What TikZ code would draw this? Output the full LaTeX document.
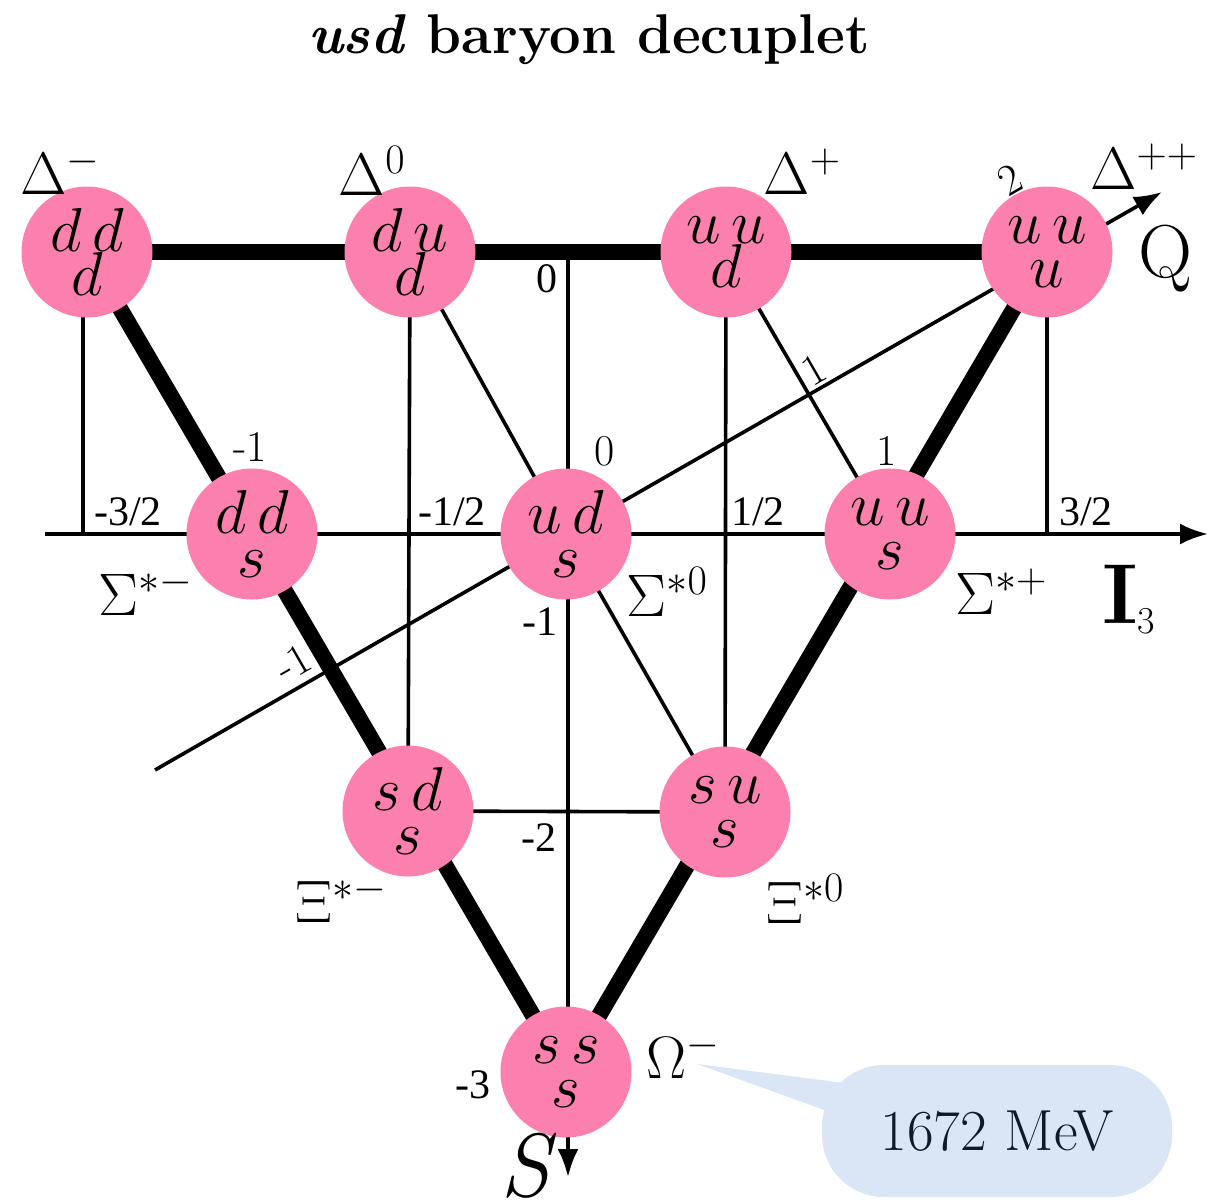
\RequirePackage{fix-cm}
\documentclass[tikz,border=0pt]{standalone}
\usepackage{fontspec}
\newfontfamily\numfont{Liberation Serif}
\usetikzlibrary{arrows.meta, backgrounds}

\definecolor{quarkpink}{RGB}{252,128,174}
\definecolor{calloutblue}{RGB}{218,230,246}
\definecolor{calloutink}{RGB}{15,25,45}

\begin{document}
\begin{tikzpicture}[
  x=1pt, y=-1pt,
  quark/.style={circle, fill=quarkpink, minimum size=131pt, inner sep=0pt,
                align=center, font=\fontsize{62}{44}\selectfont},
  hadron/.style={font=\fontsize{60}{60}\selectfont, inner sep=0pt},
  num/.style={font=\numfont\fontsize{42}{42}\selectfont, inner sep=0pt},
  qnum/.style={font=\fontsize{44}{44}\selectfont, inner sep=0pt},
  heavy/.style={line width=16pt},
  light/.style={line width=3.6pt},
  axis/.style={line width=3.6pt, -{Latex[length=28pt, width=21pt]}},
  mass/.style={fill=calloutblue, text=calloutink, rounded corners=62pt,
               minimum width=350pt, minimum height=132pt,
               font=\fontsize{58}{58}\selectfont}
]
\useasboundingbox (0,0) rectangle (1219,1200);

\node[font=\fontsize{56}{56}\selectfont, inner sep=0pt] (title) at (589,40)
  {\textbf{\textit{usd} baryon decuplet}};

% the ten states
\node[quark] (ddd) at (87,252)   {$d\,d$\\$d$};
\node[quark] (dud) at (410,252)  {$d\,u$\\$d$};
\node[quark] (uud) at (726,252)  {$u\,u$\\$d$};
\node[quark] (uuu) at (1047,252) {$u\,u$\\$u$};
\node[quark] (dds) at (252,534)  {$d\,d$\\$s$};
\node[quark] (uds) at (566,534)  {$u\,d$\\$s$};
\node[quark] (uus) at (890,534)  {$u\,u$\\$s$};
\node[quark] (sds) at (408,811)  {$s\,d$\\$s$};
\node[quark] (sus) at (725,812)  {$s\,u$\\$s$};
\node[quark] (sss) at (566,1072) {$s\,s$\\$s$};

% particle names
\node[hadron] (Dm)  at (60,171)   {$\Delta^{-}$};
\node[hadron] (D0)  at (372,171)  {$\Delta^{0}$};
\node[hadron] (Dp)  at (802,172)  {$\Delta^{+}$};
\node[hadron] (Dpp) at (1144,167) {$\Delta^{++}$};
\node[hadron] (Sm)  at (146,592)  {$\Sigma^{*-}$};
\node[hadron] (S0)  at (667,592)  {$\Sigma^{*0}$};
\node[hadron] (Sp)  at (1001,592) {$\Sigma^{*+}$};
\node[hadron] (Xm)  at (341,899)  {$\Xi^{*-}$};
\node[hadron] (X0)  at (805,899)  {$\Xi^{*0}$};
\node[hadron] (Om)  at (683,1055) {$\Omega^{-}$};

% axes ends
\coordinate (o)    at (568,534);
\coordinate (iL)   at (45,534);
\coordinate (iR)   at (1208,534);
\coordinate (sTop) at (568,250);
\coordinate (sBot) at (568,1177);
\coordinate (qL)   at (155,770);
\coordinate (qR)   at (1162,192);

% axis names
\node[anchor=base west, inner sep=0pt] (I3) at (1102,623)
  {\fontsize{85}{85}\selectfont\textbf{I}\raisebox{-10pt}{\fontsize{38}{38}\selectfont 3}};
\node[anchor=base west, inner sep=0pt, font=\fontsize{75}{75}\selectfont] (Q) at (1138,277) {Q};
\node[anchor=base west, inner sep=0pt, font=\fontsize{90}{90}\selectfont] (S) at (500,1196) {\textit{S}};

% I3 values
\node[num] (im3) at (128,512) {-3/2};
\node[num] (im1) at (452,512) {-1/2};
\node[num] (ip1) at (758,512) {1/2};
\node[num] (ip3) at (1086,512) {3/2};

% S values
\node[num] (s0) at (547,279)  {0};
\node[num] (s1) at (540,622)  {-1};
\node[num] (s2) at (539,838)  {-2};
\node[num] (s3) at (473,1085) {-3};

% Q values
\node[qnum] (qm1) at (250,447) {-1};
\node[qnum] (q0)  at (605,451) {0};
\node[qnum] (q1)  at (887,451) {1};
\node[qnum, rotate=30] (q2)  at (1010,180) {2};
\node[qnum, rotate=30] (qa1) at (814,370) {1};
\node[qnum, rotate=30] (qam) at (293,663) {-1};

% mass call-out
\node[mass] (mass) at (997,1131) {1672 MeV};
\coordinate (tip) at (697,1064);

\begin{scope}[on background layer]
  \fill[calloutblue] (tip) -- ([shift={(30,-47)}]mass.west) -- ([shift={(8,-19)}]mass.west) -- cycle;

  \draw[axis] (iL) -- (iR);
  \draw[axis] (sTop) -- (sBot);
  \draw[axis] (qL) -- (qR);

  \draw[light] ([xshift=-4pt]ddd.center) -- ([xshift=-4pt]ddd.center |- o);
  \draw[light] (uuu.center) -- (uuu.center |- o);
  \draw[light] (dud.center) -- (sds.center);
  \draw[light] (uud.center) -- (sus.center);
  \draw[light] (dud.center) -- (uds.center);
  \draw[light] (uud.center) -- (uus.center);
  \draw[light] (uds.center) -- (sus.center);
  \draw[light] (sds.center) -- (sus.center);

  \draw[heavy] (ddd.center) -- (uuu.center);
  \draw[heavy] (ddd.center) -- (sss.center);
  \draw[heavy] (uuu.center) -- (sss.center);
\end{scope}
\end{tikzpicture}
\end{document}
